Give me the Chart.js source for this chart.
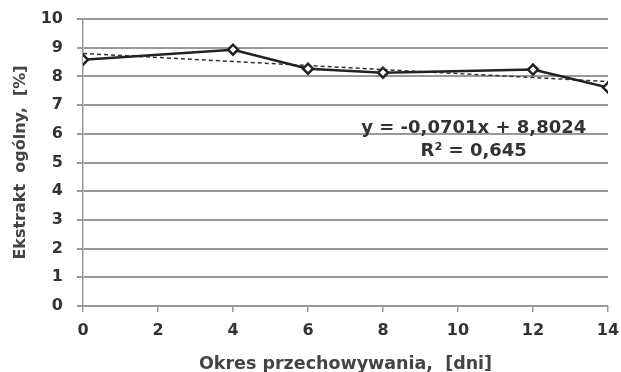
<!DOCTYPE html>
<html><head><meta charset="utf-8">
<script src="https://cdn.jsdelivr.net/npm/chart.js@4/dist/chart.umd.min.js"></script>
<style>html,body{margin:0;padding:0;background:#fff}#w{width:621px;height:372px}</style>
</head><body><div id="w"><canvas id="c"></canvas></div>
<script>
const days = [0, 4, 6, 8, 12, 14];
const extract = [8.58, 8.93, 8.27, 8.13, 8.24, 7.61];
const trendDays = [0, 14];
const trendValues = [8.80, 7.82];
const xTicks = [0, 2, 4, 6, 8, 10, 12, 14];
const yTicks = [0, 1, 2, 3, 4, 5, 6, 7, 8, 9, 10];
const eqLines = ['y = -0,0701x + 8,8024', 'R² = 0,645'];

const textPlugin = {
  id: 'eq',
  afterDatasetsDraw(chart) {
    const {ctx, scales: {x, y}} = chart;
    ctx.save();
    ctx.fillStyle = '#333';
    ctx.font = 'bold 18px "DejaVu Sans"';
    ctx.textAlign = 'center';
    ctx.textBaseline = 'middle';
    ctx.fillText(eqLines[0], x.getPixelForValue(10.42), y.getPixelForValue(6.18));
    ctx.fillText(eqLines[1], x.getPixelForValue(10.42), y.getPixelForValue(5.38));
    ctx.restore();
  }
};

new Chart(document.getElementById('c'), {
  type: 'scatter',
  data: {
    datasets: [
      {
        data: days.map((d, i) => ({x: d, y: extract[i]})),
        showLine: true,
        borderColor: '#222',
        borderWidth: 2.5,
        pointRadius: 5,
        pointBorderWidth: 2.5,
        pointBackgroundColor: '#fff',
        pointBorderColor: '#222',
        pointStyle: 'rectRot',
        order: 1
      },
      {
        data: trendDays.map((d, i) => ({x: d, y: trendValues[i]})),
        showLine: true,
        borderColor: '#333',
        borderWidth: 1.5,
        borderDash: [4, 3],
        pointRadius: 0,
        order: 2
      }
    ]
  },
  options: {
    responsive: true,
    maintainAspectRatio: false,
    animation: false,
    layout: {padding: {top: 19, right: 13, left: 7, bottom: 0}},
    plugins: {legend: {display: false}, tooltip: {enabled: false}},
    scales: {
      x: {
        type: 'linear', min: 0, max: 14,
        afterBuildTicks(s) { s.ticks = xTicks.map(v => ({value: v})); },
        afterFit(s) { s.height = 66; s.paddingLeft = 0; s.paddingRight = 0; },
        grid: {display: true, drawOnChartArea: false, drawTicks: true, tickLength: 6, color: '#999', lineWidth: 1.5},
        border: {display: true, color: '#999', width: 1.5},
        ticks: {color: '#333', font: {family: 'DejaVu Sans', weight: 'bold', size: 16}, padding: 9, maxRotation: 0},
        title: {display: true, text: 'Okres przechowywania,  [dni]', color: '#444', font: {family: 'DejaVu Sans', weight: 'bold', size: 17.5, lineHeight: 0.88}, padding: {top: 0, bottom: 0}}
      },
      y: {
        min: 0, max: 10,
        afterBuildTicks(s) { s.ticks = yTicks.map(v => ({value: v})); },
        afterFit(s) { s.width = 76; s.paddingTop = 0; s.paddingBottom = 0; },
        grid: {color: '#999', lineWidth: 2, tickLength: 6},
        border: {display: true, color: '#999', width: 1.5},
        ticks: {color: '#333', font: {family: 'DejaVu Sans', weight: 'bold', size: 16}, padding: 14},
        title: {display: true, text: 'Ekstrakt  ogólny,  [%]', color: '#444', font: {family: 'DejaVu Sans', weight: 'bold', size: 16}, padding: {bottom: 6}}
      }
    }
  },
  plugins: [textPlugin]
});
</script></body></html>
